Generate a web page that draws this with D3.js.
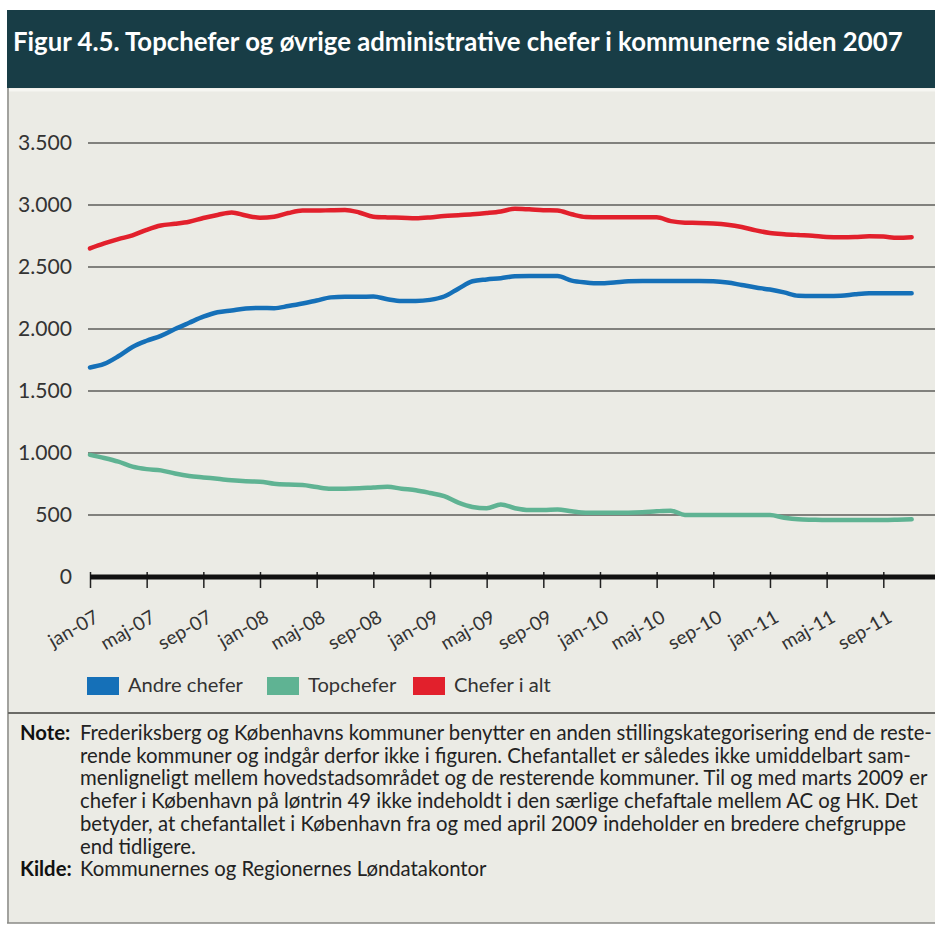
<!DOCTYPE html>
<html>
<head>
<meta charset="utf-8">
<script src="https://cdn.jsdelivr.net/npm/d3@7"></script>
<style>
html,body{margin:0;padding:0;background:#fff;}
svg{display:block;}
</style>
</head>
<body>
<svg id="chart" width="935" height="926"></svg>
<script>
// ---------- DATA ----------
const title = "Figur 4.5. Topchefer og øvrige administrative chefer i kommunerne siden 2007";
// monthly observations, jan-07 (index 0) .. nov-11 (index 58)
const andreChefer = [1690,1718,1780,1855,1905,1945,2000,2050,2099,2135,2150,2165,2170,2168,2185,2205,2230,2255,2260,2260,2262,2240,2226,2226,2235,2262,2325,2385,2400,2410,2425,2428,2428,2428,2390,2375,2368,2375,2385,2387,2387,2387,2387,2387,2385,2375,2355,2335,2318,2295,2268,2266,2266,2268,2280,2288,2288,2288,2288];
const topChefer = [985,960,930,890,870,860,835,815,803,792,780,772,769,752,745,742,725,712,712,715,722,728,712,700,678,652,600,565,554,585,555,540,540,545,530,519,519,519,519,522,530,535,500,500,500,500,500,500,500,478,465,462,460,460,460,460,460,462,465];
const cheferIAlt = [2650,2690,2725,2755,2800,2835,2848,2865,2895,2920,2940,2915,2898,2905,2935,2955,2955,2958,2960,2940,2906,2900,2898,2893,2900,2912,2918,2925,2935,2948,2970,2965,2958,2955,2925,2903,2901,2901,2901,2901,2901,2870,2857,2855,2850,2840,2822,2795,2775,2765,2758,2752,2742,2740,2742,2748,2745,2735,2740];
const tickLabels = ["jan-07","maj-07","sep-07","jan-08","maj-08","sep-08","jan-09","maj-09","sep-09","jan-10","maj-10","sep-10","jan-11","maj-11","sep-11"];
const tickIndex = [0,4,8,12,16,20,24,28,32,36,40,44,48,52,56];
const yTicks = [0,500,1000,1500,2000,2500,3000,3500];
const seriesNames = ["Andre chefer","Topchefer","Chefer i alt"];
const seriesColors = ["#1570b8","#5fb393","#e2202c"];
const noteLines = [
 "Frederiksberg og Københavns kommuner benytter en anden stillingskategorisering end de reste-",
 "rende kommuner og indgår derfor ikke i figuren. Chefantallet er således ikke umiddelbart sam-",
 "menligneligt mellem hovedstadsområdet og de resterende kommuner. Til og med marts 2009 er",
 "chefer i København på løntrin 49 ikke indeholdt i den særlige chefaftale mellem AC og HK. Det",
 "betyder, at chefantallet i København fra og med april 2009 indeholder en bredere chefgruppe",
 "end tidligere."
];
const sourceText = "Kommunernes og Regionernes Løndatakontor";

// ---------- LAYOUT ----------
const svg = d3.select("#chart");
const W = 935, H = 926;
const FONT = "Lato, 'Open Sans', sans-serif";

function fitSize(sel, target, base) {
  const len = sel.node().getComputedTextLength();
  const s = base * target / len;
  sel.attr("font-size", s);
  return s;
}

// panel
svg.append("rect").attr("x",7).attr("y",88).attr("width",W-7).attr("height",835).attr("fill","#ebebe5");
svg.append("line").attr("x1",8).attr("x2",8).attr("y1",88).attr("y2",923).attr("stroke","#8a8a86").attr("stroke-width",1.5);
svg.append("line").attr("x1",7).attr("x2",W).attr("y1",923).attr("y2",923).attr("stroke","#8a8a86").attr("stroke-width",1.5);
svg.append("line").attr("x1",9).attr("x2",W).attr("y1",90).attr("y2",90).attr("stroke","#f6f6f2").attr("stroke-width",3);

// title band
svg.append("rect").attr("x",7).attr("y",10).attr("width",W-7).attr("height",78).attr("fill","#183d46");
const t = svg.append("text").attr("x",13).attr("y",51).attr("fill","#ffffff")
  .attr("font-family",FONT).attr("font-weight",700).attr("font-size",22).text(title);
fitSize(t, 890, 22);

// scales
const x = d3.scaleLinear().domain([0,56]).range([90,883.3]);
const y = d3.scaleLinear().domain([0,3500]).range([577,143]);

// gridlines
svg.append("g").selectAll("line").data(yTicks.filter(d=>d>0)).join("line")
  .attr("x1",88).attr("x2",W).attr("y1",d=>y(d)).attr("y2",d=>y(d))
  .attr("stroke","#5e5e5a").attr("stroke-width",1.4);

// y labels
const yl = svg.append("g").selectAll("text").data(yTicks).join("text")
  .attr("x",72).attr("y",d=>y(d)).attr("dy","0.35em").attr("text-anchor","end")
  .attr("fill","#333").attr("font-family",FONT).attr("font-size",20)
  .text(d=>d3.format(",")(d).replace(/,/g,"."));
const ySize = fitSize(d3.select(yl.nodes()[7]), 54, 20);
yl.attr("font-size", ySize);

// x axis via d3.axisBottom
const xAxis = d3.axisBottom(x).tickValues(tickIndex).tickSize(16).tickFormat("");
const gx = svg.append("g").attr("transform",`translate(0,${y(0)-5})`).call(xAxis);
gx.select(".domain").remove();
gx.selectAll(".tick line").attr("stroke","#222").attr("stroke-width",1.5);
svg.append("line").attr("x1",90).attr("x2",W).attr("y1",y(0)).attr("y2",y(0))
  .attr("stroke","#111").attr("stroke-width",5);

const xl = svg.append("g").selectAll("text").data(tickIndex).join("text")
  .attr("transform",d=>`translate(${x(d)+10},${621}) rotate(-30)`)
  .attr("text-anchor","end").attr("fill","#333").attr("font-family",FONT).attr("font-size",17)
  .text((d,i)=>tickLabels[i]);
const xSize = fitSize(d3.select(xl.nodes()[0]), 54, 17);
xl.attr("font-size", xSize);

// lines
const line = d3.line().x((d,i)=>x(i)).y(d=>y(d)).curve(d3.curveMonotoneX);
const series = [andreChefer, topChefer, cheferIAlt];
svg.append("g").selectAll("path").data(series).join("path")
  .attr("d",line).attr("fill","none")
  .attr("stroke",(d,i)=>seriesColors[i]).attr("stroke-width",4.5)
  .attr("stroke-linejoin","round").attr("stroke-linecap","round");

// legend
const legX = [87,267,413];
const lg = svg.append("g").selectAll("g").data(seriesNames).join("g")
  .attr("transform",(d,i)=>`translate(${legX[i]},677)`);
lg.append("rect").attr("width",32).attr("height",18).attr("fill",(d,i)=>seriesColors[i]);
const lt = lg.append("text").attr("x",41).attr("y",15).attr("fill","#333")
  .attr("font-family",FONT).attr("font-size",18).text(d=>d);
const lSize = fitSize(d3.select(lt.nodes()[0]), 115, 18);
lt.attr("font-size", lSize);

// note
svg.append("line").attr("x1",8).attr("x2",W).attr("y1",713).attr("y2",713).attr("stroke","#6a6a66").attr("stroke-width",2);
const noteBase = [740,763,785,808,831,854];
const src = svg.append("text").attr("x",80).attr("y",876).attr("fill","#222")
  .attr("font-family",FONT).attr("font-size",16).text(sourceText);
let nSize = fitSize(src, 410, 16);
const nl = svg.append("g").selectAll("text").data(noteLines).join("text")
  .attr("x",80).attr("y",(d,i)=>noteBase[i]).attr("fill","#222")
  .attr("font-family",FONT).attr("font-size",nSize).text(d=>d);
// keep longest line inside the picture
const maxLen = d3.max(nl.nodes(), n=>n.getComputedTextLength());
if (80 + maxLen > W - 3) {
  nSize = nSize * (W - 3 - 80) / maxLen;
  nl.attr("font-size", nSize);
  src.attr("font-size", nSize);
}
svg.append("text").attr("x",20).attr("y",740).attr("fill","#111").attr("font-family",FONT)
  .attr("font-weight",700).attr("font-size",nSize).text("Note:");
svg.append("text").attr("x",20).attr("y",876).attr("fill","#111").attr("font-family",FONT)
  .attr("font-weight",700).attr("font-size",nSize).text("Kilde:");
</script>
</body>
</html>
